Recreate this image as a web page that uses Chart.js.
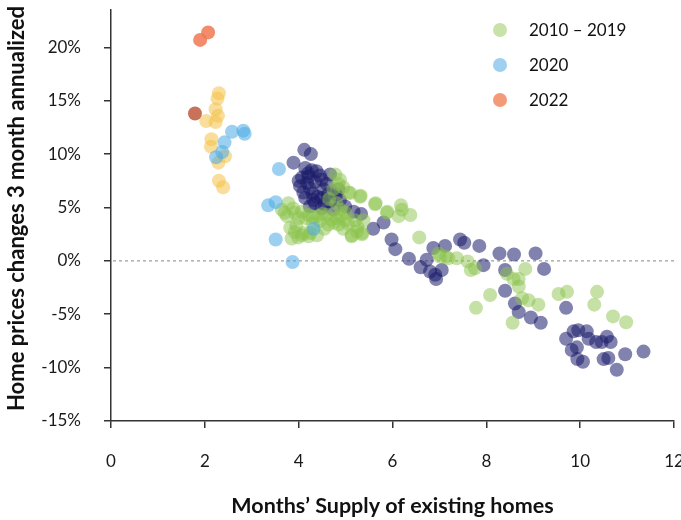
<!DOCTYPE html>
<html>
<head>
<meta charset="utf-8">
<script src="https://cdn.jsdelivr.net/npm/chart.js@4.4.1/dist/chart.umd.min.js"></script>
<style>
  html, body { margin: 0; padding: 0; background: #fff; }
</style>
</head>
<body>
<canvas id="scatterChart" width="681" height="520"></canvas>
<script>
// months' supply (x) vs 3 month annualized home price change in % (y)
const points2000s = [
    [4.12, 10.4], [4.26, 10.0], [3.89, 9.2], [4.14, 8.7], [4.28, 8.5], [4.38, 8.4], [4.07, 7.8],
    [4.21, 7.9], [4.49, 7.6], [4.67, 8.1], [4.03, 7.0], [4.24, 6.8], [4.53, 6.7], [4.85, 6.7],
    [4.14, 5.9], [4.31, 5.7], [4.49, 5.9], [4.67, 5.6], [4.88, 5.7], [4.24, 5.1], [4.49, 4.9],
    [4.74, 4.8], [4.99, 5.1], [5.17, 4.6], [5.33, 4.4], [4.20, 8.2], [4.35, 7.4], [4.45, 8.0],
    [4.30, 6.3], [4.40, 6.0], [4.60, 7.2], [4.18, 7.3], [4.55, 5.3], [4.35, 5.4], [4.80, 6.2],
    [4.62, 6.2], [4.10, 6.4], [4.00, 7.5],
    [5.59, 3.0], [5.81, 3.6], [5.98, 2.0], [6.06, 1.1], [6.35, 0.2], [6.87, 1.2], [7.12, 1.4],
    [6.73, 0.1], [6.60, -0.6], [6.80, -1.0], [6.91, -1.3], [7.05, -0.85], [6.93, -1.7], [7.44, 2.0],
    [7.53, 1.7], [7.85, 1.4], [8.28, 0.7], [8.59, 0.6], [9.05, 0.7], [7.94, -0.4], [8.40, -0.85],
    [9.23, -0.75], [8.40, -2.8], [8.61, -4.0], [8.69, -4.8], [8.95, -5.3], [9.16, -5.8], [9.70, -4.4],
    [9.96, -6.5], [9.86, -6.6], [10.14, -6.6], [9.70, -7.3], [10.18, -7.3], [10.34, -7.6], [10.46, -7.6],
    [10.57, -7.1], [10.65, -7.6], [9.82, -8.35], [9.93, -8.1], [9.94, -9.2], [10.06, -9.45], [10.50, -9.2],
    [10.60, -9.1], [10.96, -8.75], [11.35, -8.5], [10.78, -10.2]
];
const points2010s = [
    [4.78, 8.1], [4.88, 7.6], [4.74, 6.7], [5.06, 6.4], [5.31, 6.0], [5.63, 5.3], [3.78, 5.4],
    [3.64, 4.8], [3.75, 4.2], [3.92, 4.5], [4.07, 4.6], [4.21, 4.3], [4.42, 4.2], [4.60, 4.3],
    [4.81, 4.0], [4.99, 3.8], [5.20, 3.8], [5.38, 3.8], [3.82, 3.1], [3.92, 2.7], [4.07, 2.4],
    [4.21, 2.3], [4.39, 2.4], [4.63, 3.4], [4.85, 3.4], [5.13, 2.4], [5.35, 2.6], [3.85, 2.1],
    [3.99, 2.2], [5.10, 6.35], [5.32, 6.1], [5.64, 5.4], [5.89, 4.6], [6.13, 4.2], [6.18, 5.2],
    [6.20, 4.8], [6.38, 4.3], [6.57, 2.2], [7.01, 0.4], [7.19, 0.25], [7.37, 0.25], [5.24, 2.75],
    [5.35, 2.5], [5.13, 2.3], [5.88, 4.5], [3.70, 4.5], [3.88, 4.9], [4.00, 4.0], [4.15, 4.0],
    [4.30, 4.1], [4.50, 4.4], [4.70, 3.9], [4.90, 4.2], [5.05, 3.5], [4.95, 3.0], [5.25, 3.2],
    [4.10, 2.6], [3.95, 3.3], [4.25, 2.6], [4.55, 3.0], [4.75, 3.6], [4.80, 5.4], [4.65, 5.8],
    [4.90, 4.8], [4.85, 7.2], [4.95, 6.9], [5.00, 4.5], [4.45, 3.7], [4.30, 3.5],
    [6.98, 0.7], [7.14, 0.4], [7.60, -0.05], [7.67, -0.85], [7.76, -0.7], [8.83, -0.75], [8.44, -1.2],
    [8.58, -1.7], [8.69, -1.7], [8.69, -2.4], [8.08, -3.2], [7.78, -4.4], [8.76, -3.5], [8.90, -3.7],
    [9.11, -4.1], [8.56, -5.8], [9.54, -3.1], [9.72, -2.9], [10.36, -2.9], [10.30, -4.1], [10.70, -5.2],
    [10.98, -5.75]
];
const points2020 = [
    [2.58, 12.1], [2.82, 12.2], [2.85, 11.9], [2.42, 11.1], [2.37, 10.2], [2.24, 9.7],
    [3.58, 8.6], [3.35, 5.2], [3.51, 5.5], [3.51, 2.0], [4.32, 3.0], [3.87, -0.1]
];
const points2021 = [
    [2.30, 15.7], [2.27, 15.2], [2.23, 14.2], [2.28, 13.6], [2.03, 13.1], [2.23, 13.0],
    [2.14, 11.4], [2.13, 10.7], [2.43, 9.8], [2.29, 9.2], [2.30, 7.5], [2.39, 6.9]
];
const points2022 = [[1.90, 20.7], [2.07, 21.4]];
const points2023 = [[1.79, 13.8]];

const xTicks = [0, 2, 4, 6, 8, 10, 12];
const yTicks = [-15, -10, -5, 0, 5, 10, 15, 20];
const legendLabels = ['2010 – 2019', '2020', '2022'];

const xTitle = 'Months’ Supply of existing homes';
const yTitle = 'Home prices changes 3 month annualized %';

function toXY(list) {
    return list.map(function (p) { return { x: p[0], y: p[1] }; });
}

// dataset 0 ends up on top
const datasets = [
    { label: '2022', data: toXY(points2022), backgroundColor: 'rgba(240,120,82,0.85)', legendColor: '#f59a78' },
    { label: '2023', data: toXY(points2023), backgroundColor: 'rgba(190,90,60,0.85)' },
    { label: '2020', data: toXY(points2020), backgroundColor: 'rgba(75,170,228,0.55)', legendColor: '#a0d0f0' },
    { label: '2021', data: toXY(points2021), backgroundColor: 'rgba(244,193,71,0.55)' },
    { label: '2010 – 2019', data: toXY(points2010s), backgroundColor: 'rgba(139,195,75,0.5)', legendColor: '#c8e2aa' },
    { label: '2000 – 2009', data: toXY(points2000s), backgroundColor: 'rgba(25,28,105,0.55)' }
];
datasets.forEach(function (ds) {
    ds.pointRadius = 7;
    ds.pointHoverRadius = 7;
    ds.borderWidth = 0;
});

/**
 * dotted zero line, titles and the legend in the top right corner
 */
const extras = {
    id: 'extras',
    beforeDatasetsDraw(chart) {
        const ctx = chart.ctx;
        const area = chart.chartArea;
        const y0 = chart.scales.y.getPixelForValue(0);
        ctx.save();
        ctx.strokeStyle = '#9a9a9a';
        ctx.lineWidth = 1.2;
        ctx.setLineDash([3, 3]);
        ctx.beginPath();
        ctx.moveTo(area.left + 2, y0);
        ctx.lineTo(area.right, y0);
        ctx.stroke();
        ctx.restore();
    },
    afterDraw(chart) {
        const ctx = chart.ctx;
        const area = chart.chartArea;
        ctx.save();
        ctx.fillStyle = '#111';
        ctx.font = 'bold 21.5px Lato';
        ctx.textBaseline = 'middle';
        ctx.textAlign = 'center';
        ctx.fillText(xTitle, (area.left + area.right) / 2, 506);

        ctx.save();
        ctx.font = 'bold 22px Lato';
        ctx.translate(17, 411);
        ctx.rotate(-Math.PI / 2);
        ctx.textAlign = 'left';
        ctx.fillText(yTitle, 0, 0);
        ctx.restore();

        ctx.font = '17px Lato';
        ctx.textAlign = 'left';
        legendLabels.forEach(function (label, i) {
            const ds = chart.data.datasets.find(function (d) { return d.label === label; });
            const cy = 30 + i * 35;
            ctx.fillStyle = ds.legendColor;
            ctx.beginPath();
            ctx.arc(500, cy, 7, 0, Math.PI * 2);
            ctx.fill();
            ctx.fillStyle = '#111';
            ctx.fillText(label, 529, cy + 1);
        });
        ctx.restore();
    }
};

const tickFont = { family: 'Lato', size: 17 };

new Chart(document.getElementById('scatterChart'), {
    type: 'scatter',
    data: { datasets: datasets },
    options: {
        responsive: false,
        animation: false,
        events: [],
        layout: { padding: { top: 10, right: 7, left: 0, bottom: 0 } },
        plugins: {
            legend: { display: false },
            tooltip: { enabled: false }
        },
        scales: {
            x: {
                type: 'linear',
                min: 0,
                max: 12,
                afterFit: function (scale) {
                    scale.height = 99;
                    scale.paddingLeft = 0;
                    scale.paddingRight = 0;
                },
                afterBuildTicks: function (scale) {
                    scale.ticks = xTicks.map(function (v) { return { value: v }; });
                },
                grid: { drawOnChartArea: false, drawTicks: true, tickLength: 7, color: '#333', lineWidth: 1.5 },
                border: { color: '#333', width: 1.5 },
                ticks: { font: tickFont, color: '#1a1a1a', padding: 23, maxRotation: 0 }
            },
            y: {
                type: 'linear',
                min: -15,
                max: 23.5,
                afterFit: function (scale) {
                    scale.width = 111;
                    scale.paddingTop = 0;
                    scale.paddingBottom = 0;
                },
                afterBuildTicks: function (scale) {
                    scale.ticks = yTicks.map(function (v) { return { value: v }; });
                },
                grid: { drawOnChartArea: false, drawTicks: true, tickLength: 7, color: '#333', lineWidth: 1.5 },
                border: { color: '#333', width: 1.5 },
                ticks: {
                    font: tickFont,
                    color: '#1a1a1a',
                    padding: 23,
                    callback: function (v) { return v + '%'; }
                }
            }
        }
    },
    plugins: [extras]
});
</script>
</body>
</html>
